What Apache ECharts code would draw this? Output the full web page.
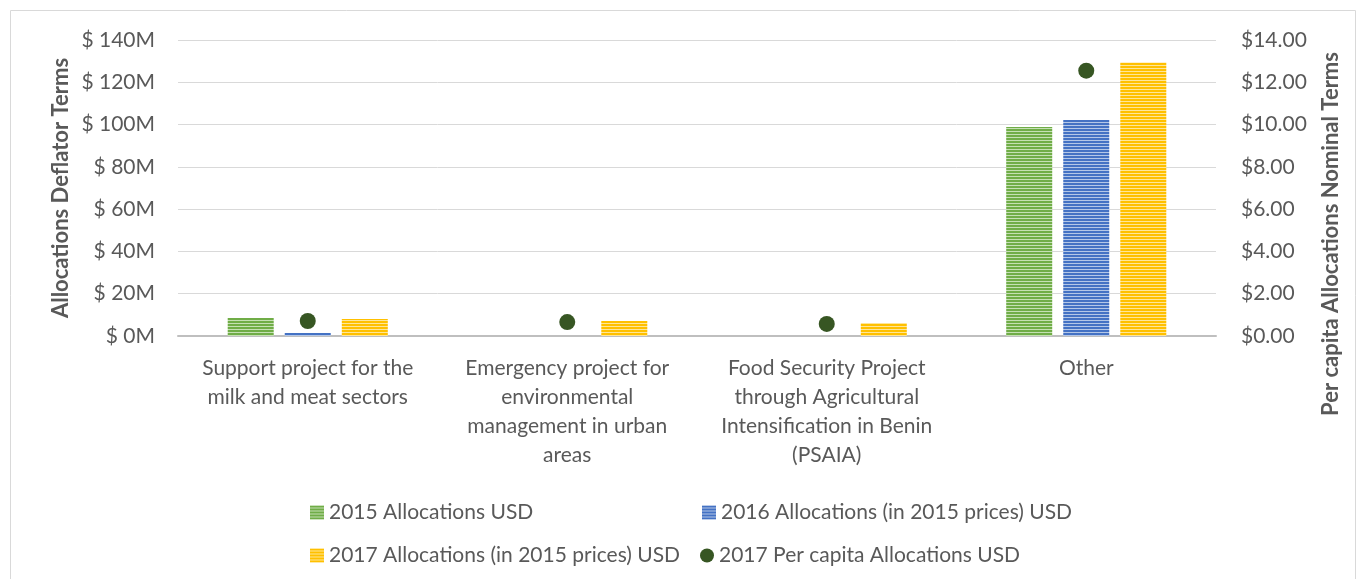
<!DOCTYPE html>
<html>
<head>
<meta charset="utf-8">
<script src="https://cdn.jsdelivr.net/npm/echarts@6/dist/echarts.min.js"></script>
<style>
  html, body { margin: 0; padding: 0; background: #fff; }
  #chart { width: 1366px; height: 579px; }
</style>
</head>
<body>
<div id="chart"></div>
<script>
var categories = [
  "Support project for the milk and meat sectors",
  "Emergency project for environmental management in urban areas",
  "Food Security Project through Agricultural Intensification in Benin (PSAIA)",
  "Other"
];
var categoryLabels = [
  "Support project for the\nmilk and meat sectors",
  "Emergency project for\nenvironmental\nmanagement in urban\nareas",
  "Food Security Project\nthrough Agricultural\nIntensification in Benin\n(PSAIA)",
  "Other"
];
var alloc2015 = [8.5, null, null, 98.9];
var alloc2016 = [1.4, null, null, 102.2];
var alloc2017 = [8.0, 7.1, 6.1, 129.3];
var perCapita2017 = [0.71, 0.66, 0.57, 12.55];
var leftTicks = { min: 0, max: 140, interval: 20 };
var rightTicks = { min: 0, max: 14, interval: 2 };

var seriesNames = [
  "2015 Allocations USD",
  "2016 Allocations (in 2015 prices) USD",
  "2017 Allocations (in 2015 prices) USD",
  "2017 Per capita Allocations USD"
];

// striped fill like the original chart
function stripes(color, light) {
  var c = document.createElement("canvas");
  c.width = 8;
  c.height = 6;
  var ctx = c.getContext("2d");
  ctx.fillStyle = color;
  ctx.fillRect(0, 0, 8, 6);
  ctx.fillStyle = light;
  ctx.fillRect(0, 2, 8, 1);
  ctx.fillRect(0, 5, 8, 1);
  return { image: c, repeat: "repeat" };
}

var green = "#70AD47", blue = "#4472C4", yellow = "#FFC000", dot = "#375623";
var font = "Lato, 'Liberation Sans', sans-serif";
var textColor = "#595959";

var myChart = echarts.init(document.getElementById("chart"));

function legendAt(name, left, top, icon) {
  return {
    data: [{ name: name, icon: icon }],
    left: left,
    top: top,
    itemWidth: 14,
    itemHeight: 14,
    itemGap: 6,
    textStyle: { fontFamily: font, fontSize: 21, color: textColor, padding: [0, 0, 0, 0] }
  };
}

var option = {
  animation: false,
  grid: { left: 178, right: 150, top: 40, bottom: 243 },
  legend: [
    legendAt(seriesNames[0], 305, 497, "rect"),
    legendAt(seriesNames[1], 697, 497, "rect"),
    legendAt(seriesNames[2], 305, 540, "rect"),
    legendAt(seriesNames[3], 695, 540, "circle")
  ],
  xAxis: {
    type: "category",
    data: categories,
    axisTick: { show: false },
    axisLine: { lineStyle: { color: "#BFBFBF", width: 2 } },
    axisLabel: {
      interval: 0,
      margin: 18,
      lineHeight: 29,
      fontFamily: font,
      fontSize: 21,
      color: textColor,
      formatter: function (v, i) { return categoryLabels[i]; }
    }
  },
  yAxis: [
    {
      type: "value",
      min: leftTicks.min,
      max: leftTicks.max,
      interval: leftTicks.interval,
      axisLine: { show: false },
      axisTick: { show: false },
      splitLine: { lineStyle: { color: "#D9D9D9", width: 1 } },
      axisLabel: {
        margin: 23,
        fontFamily: font,
        fontSize: 21,
        color: textColor,
        formatter: function (v) { return "$ " + v + "M"; }
      }
    },
    {
      type: "value",
      min: rightTicks.min,
      max: rightTicks.max,
      interval: rightTicks.interval,
      axisLine: { show: false },
      axisTick: { show: false },
      splitLine: { show: false },
      axisLabel: {
        margin: 25,
        fontFamily: font,
        fontSize: 21,
        color: textColor,
        formatter: function (v) { return "$" + v.toFixed(2); }
      }
    }
  ],
  graphic: [
    {
      type: "rect",
      shape: { x: 10.5, y: 10.5, width: 1345, height: 600 },
      style: { fill: null, stroke: "#D9D9D9", lineWidth: 1 },
      silent: true
    },
    {
      type: "text",
      x: 61,
      y: 188,
      rotation: Math.PI / 2,
      style: {
        text: "Allocations Deflator Terms",
        fontFamily: font,
        fontSize: 22,
        fontWeight: "bold",
        fill: textColor,
        align: "center",
        verticalAlign: "middle"
      }
    },
    {
      type: "text",
      x: 1331,
      y: 234,
      rotation: Math.PI / 2,
      style: {
        text: "Per capita Allocations Nominal Terms",
        fontFamily: font,
        fontSize: 22,
        fontWeight: "bold",
        fill: textColor,
        align: "center",
        verticalAlign: "middle"
      }
    }
  ],
  series: [
    {
      name: seriesNames[0],
      type: "bar",
      data: alloc2015,
      barWidth: 46,
      barGap: "24%",
      itemStyle: { color: stripes(green, "#C5E0B4") }
    },
    {
      name: seriesNames[1],
      type: "bar",
      data: alloc2016,
      barWidth: 46,
      barGap: "24%",
      itemStyle: { color: stripes(blue, "#B4C7E7") }
    },
    {
      name: seriesNames[2],
      type: "bar",
      data: alloc2017,
      barWidth: 46,
      barGap: "24%",
      itemStyle: { color: stripes(yellow, "#FFE699") }
    },
    {
      name: seriesNames[3],
      type: "scatter",
      yAxisIndex: 1,
      data: perCapita2017,
      symbol: "circle",
      symbolSize: 16,
      itemStyle: { color: dot, opacity: 1 }
    }
  ]
};

myChart.setOption(option);
</script>
</body>
</html>
